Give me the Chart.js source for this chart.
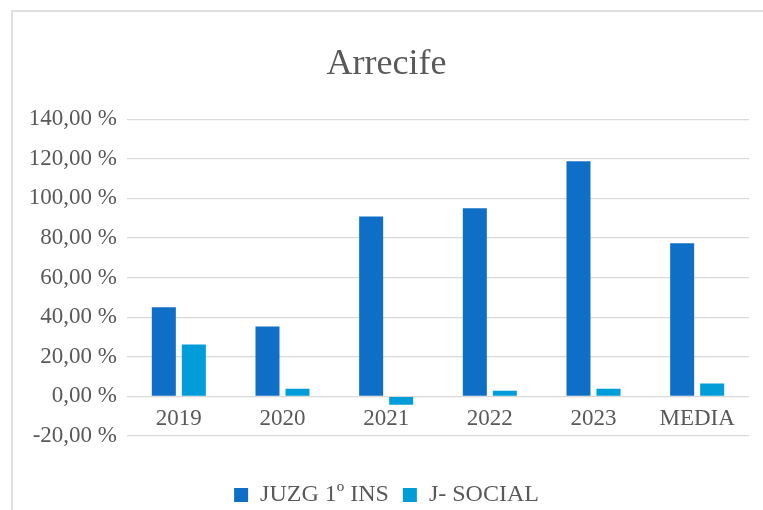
<!DOCTYPE html>
<html>
<head>
<meta charset="utf-8">
<script src="https://cdn.jsdelivr.net/npm/chart.js@4.4.1/dist/chart.umd.min.js"></script>
<style>
  html, body { margin: 0; padding: 0; background: #fff; overflow: hidden; }
  #wrap { position: relative; width: 763px; height: 510px; }
  #frame { position: absolute; left: 11px; top: 10px; width: 800px; height: 600px;
           border-left: 2px solid #e0e0e0; border-top: 2px solid #e0e0e0; }
  #c { position: absolute; left: 0; top: 0; }
</style>
</head>
<body>
<div id="wrap">
  <div id="frame"></div>
  <canvas id="c" width="763" height="510"></canvas>
</div>
<script>
const chartTitle = 'Arrecife';
const categories = ['2019', '2020', '2021', '2022', '2023', 'MEDIA'];
const seriesNames = ['JUZG 1º INS', 'J- SOCIAL'];
const juzgValues = [45.0, 35.3, 90.9, 95.0, 118.8, 77.3];
const socialValues = [26.2, 3.9, -4.2, 2.9, 3.9, 6.5];
const yTicks = [-20, 0, 20, 40, 60, 80, 100, 120, 140];

const FONT = '"Liberation Serif", "Times New Roman", serif';
const TXT = '#595959';

new Chart(document.getElementById('c'), {
  type: 'bar',
  data: {
    labels: categories,
    datasets: [
      { label: seriesNames[0], data: juzgValues, backgroundColor: '#0F6FC6', xAxisID: 'x', yAxisID: 'y',
        categoryPercentage: 0.579, barPercentage: 0.8 },
      { label: seriesNames[1], data: socialValues, backgroundColor: '#009DD9', xAxisID: 'x', yAxisID: 'y',
        categoryPercentage: 0.579, barPercentage: 0.8 }
    ]
  },
  options: {
    responsive: false,
    animation: false,
    devicePixelRatio: 1,
    layout: { padding: { left: 24, right: 14, top: 0, bottom: -7 } },
    scales: {
      x: {
        type: 'category',
        position: { y: 0 },
        grid: { display: false, drawTicks: false },
        border: { display: false },
        ticks: { color: TXT, font: { family: FONT, size: 23 }, padding: 9, maxRotation: 0 }
      },
      gap: {
        type: 'linear',
        position: 'bottom',
        display: true,
        grid: { display: false, drawTicks: false },
        border: { display: false },
        ticks: { display: false },
        afterFit: s => { s.height = 33; }
      },
      y: {
        type: 'linear',
        min: -20,
        max: 140,
        afterBuildTicks: s => { s.ticks = yTicks.map(v => ({ value: v })); },
        afterFit: s => { s.width = 103; },
        grid: { color: '#d9d9d9', lineWidth: 1.3, drawTicks: false },
        border: { display: false },
        ticks: {
          color: TXT,
          padding: 10,
          font: { family: FONT, size: 23 },
          callback: v => v.toFixed(2).replace('.', ',') + ' %'
        }
      }
    },
    plugins: {
      title: {
        display: true,
        text: chartTitle,
        color: TXT,
        font: { family: FONT, size: 36, weight: 'normal' },
        padding: { top: 43, bottom: 33 }
      },
      legend: {
        display: true,
        position: 'bottom',
        labels: {
          color: TXT,
          font: { family: FONT, size: 24 },
          boxWidth: 14,
          boxHeight: 14,
          padding: 14
        }
      },
      tooltip: { enabled: false }
    }
  }
});
</script>
</body>
</html>
